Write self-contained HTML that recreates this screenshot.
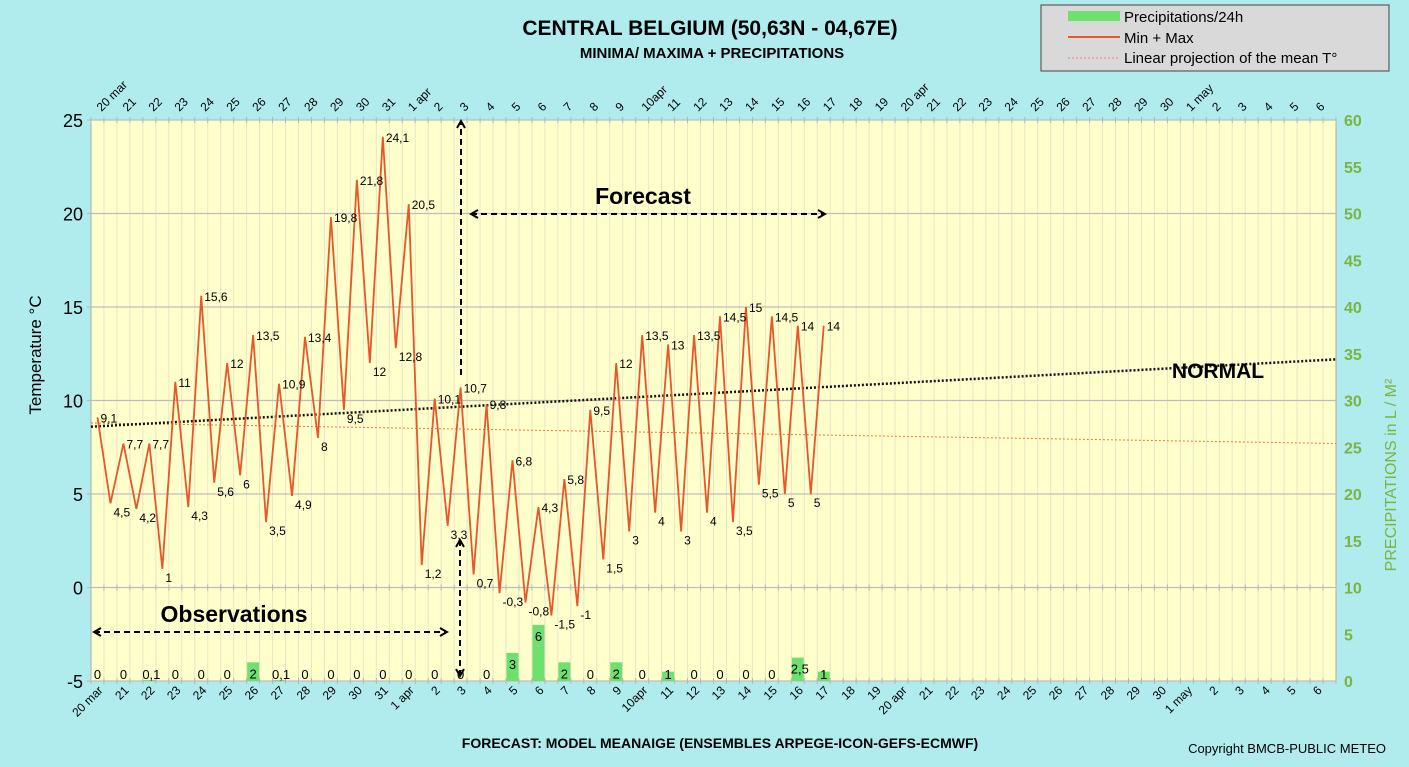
<!DOCTYPE html>
<html><head><meta charset="utf-8"><style>
body{margin:0;background:#b0ecee;}
svg{display:block;font-family:"Liberation Sans",sans-serif;}
</style></head><body>
<svg id="c" width="1409" height="767" xmlns="http://www.w3.org/2000/svg">
<rect x="0" y="0" width="1409" height="767" fill="#b0ecee"/>
<text x="710" y="35" text-anchor="middle" font-size="21" font-weight="bold">CENTRAL BELGIUM (50,63N - 04,67E)</text>
<text x="712" y="58" text-anchor="middle" font-size="15" font-weight="bold">MINIMA/ MAXIMA + PRECIPITATIONS</text>
<g>
<rect x="1041" y="5" width="348" height="66" fill="#d9d9d9" stroke="#444"/>
<rect x="1068" y="11" width="52" height="10" fill="#6ee06e"/>
<text x="1124" y="22" font-size="15">Precipitations/24h</text>
<line x1="1068" y1="37" x2="1120" y2="37" stroke="#e8562a" stroke-width="2"/>
<text x="1124" y="43" font-size="15">Min + Max</text>
<line x1="1068" y1="58" x2="1120" y2="58" stroke="#f08080" stroke-width="1" stroke-dasharray="2,2"/>
<text x="1124" y="63" font-size="15">Linear projection of the mean T°</text>
</g>
<g id="plot"></g>
<text x="720" y="748" text-anchor="middle" font-size="14" font-weight="bold">FORECAST: MODEL MEANAIGE (ENSEMBLES ARPEGE-ICON-GEFS-ECMWF)</text>
<text x="1386" y="753" text-anchor="end" font-size="13">Copyright BMCB-PUBLIC METEO</text>
<text transform="translate(41,355) rotate(-90)" text-anchor="middle" font-size="17">Temperature   °C</text>
<text transform="translate(1396,475) rotate(-90)" text-anchor="middle" font-size="16" fill="#7cb342">PRECIPITATIONS in L / M²</text>
</svg>
<script>
const dayLabels=["20 mar","21","22","23","24","25","26","27","28","29","30","31","1 apr","2","3","4","5","6","7","8","9","10apr","11","12","13","14","15","16","17","18","19","20 apr","21","22","23","24","25","26","27","28","29","30","1 may","2","3","4","5","6"];
const temps=[9.1,4.5,7.7,4.2,7.7,1,11,4.3,15.6,5.6,12,6,13.5,3.5,10.9,4.9,13.4,8,19.8,9.5,21.8,12,24.1,12.8,20.5,1.2,10.1,3.3,10.7,0.7,9.8,-0.3,6.8,-0.8,4.3,-1.5,5.8,-1,9.5,1.5,12,3,13.5,4,13,3,13.5,4,14.5,3.5,15,5.5,14.5,5,14,5,14];
const precip=[0,0,0.1,0,0,0,2,0.1,0,0,0,0,0,0,0,0,3,6,2,0,2,0,1,0,0,0,0,2.5,1];
const tempTicks=[-5,0,5,10,15,20,25];
const precipTicks=[0,5,10,15,20,25,30,35,40,45,50,55,60];
const normalLine=[8.6,12.2];
const linearLine=[8.8,7.7];
const NS="http://www.w3.org/2000/svg";
const L=91,R=1336,T=120,B=681,nd=48,dw=(R-L)/nd;
const yT=v=>B-(v+5)*(B-T)/30;
const yP=v=>B-v*(B-T)/60;
const xPt=k=>L+6.5+k*dw/2;
const xDay=i=>L+6.5+i*dw;
const g=document.getElementById('plot');
function mk(t,a,p){const e=document.createElementNS(NS,t);for(const k in a)e.setAttribute(k,a[k]);(p||g).appendChild(e);return e;}
let e=mk('rect',{x:L,y:T,width:R-L,height:B-T,fill:'#ffffcc',stroke:'#aaa'});


for(let i=1;i<nd*2;i++){const x=L+i*dw/2;e=mk('line',{x1:x,y1:T,x2:x,y2:B,stroke:'#e6e6c8','stroke-width':1});

}
tempTicks.forEach(v=>{const y=yT(v);e=mk('line',{x1:L-4,y1:y,x2:R,y2:y,stroke:'#bdbdbd','stroke-width':1.3});


e=mk('text',{x:L-8,y:y+7,'text-anchor':'end','font-size':18});e.textContent=v;

});
precipTicks.forEach(v=>{const y=yP(v);e=mk('text',{x:R+8,y:y+6,'font-size':16,'font-weight':'bold',fill:'#7cb342'});e.textContent=v;

});
for(let i=0;i<=nd*2;i++){const x=L+i*dw/2;[T,yT(0),B].forEach(y=>{e=mk('line',{x1:x,y1:y-3,x2:x,y2:y+3,stroke:'#b5b5b5'});

});}
dayLabels.forEach((s,i)=>{const x=xDay(i)+4;
e=mk('text',{transform:`translate(${x},${T-8}) rotate(-45)`,'font-size':12});e.textContent=s;


e=mk('text',{transform:`translate(${x+2},${B+10}) rotate(-45)`,'font-size':12,'text-anchor':'end'});e.textContent=s;

});
precip.forEach((v,i)=>{const x=xDay(i);if(v>0){e=mk('rect',{x:x-6,y:yP(v),width:12,height:B-yP(v),fill:'#6ee06e'});

}
e=mk('text',{x:x+(v%1?2:0),y:Math.min(yP(v)+16,B-2),'text-anchor':'middle','font-size':13});e.textContent=String(v).replace('.',',');

});
e=mk('line',{x1:L,y1:yT(linearLine[0]),x2:R,y2:yT(linearLine[1]),stroke:'#f07040','stroke-width':1,'stroke-dasharray':'2,2'});


e=mk('line',{x1:L,y1:yT(normalLine[0]),x2:R,y2:yT(normalLine[1]),stroke:'#111','stroke-width':2.5,'stroke-dasharray':'2,2'});


e=mk('text',{x:1218,y:yT(11.2),'text-anchor':'middle','font-size':21,'font-weight':'bold'});e.textContent='NORMAL';


e=mk('polyline',{points:temps.map((v,k)=>xPt(k)+','+yT(v)).join(' '),fill:'none',stroke:'#e8562a','stroke-width':1.8});


temps.forEach((v,k)=>{const mx=k%2==0;e=mk('text',{x:xPt(k)+3,y:yT(v)+(mx?5:13),'font-size':12});e.textContent=String(v).replace('.',',');

});
const defs=mk('defs',{});const m=mk('marker',{id:'ah',markerWidth:10,markerHeight:10,refX:8,refY:5,orient:'auto-start-reverse',markerUnits:'userSpaceOnUse'},defs);
mk('path',{d:'M1,1 L8,5 L1,9',fill:'none',stroke:'#000','stroke-width':2},m);
function arrow(x1,y1,x2,y2,name,both){e=mk('line',{x1,y1,x2,y2,stroke:'#000','stroke-width':2,'stroke-dasharray':'6,4','marker-end':'url(#ah)'});if(both)e.setAttribute('marker-start','url(#ah)');

}
arrow(461,375,461,121,'forecast-start-arrow-up',false);
arrow(460,540,460,676,'forecast-start-arrow-down',true);
arrow(471,214,825,214,'forecast-arrow',true);
arrow(94,632,447,632,'observations-arrow',true);
e=mk('text',{x:643,y:204,'text-anchor':'middle','font-size':23,'font-weight':'bold'});e.textContent='Forecast';


e=mk('text',{x:234,y:622,'text-anchor':'middle','font-size':23,'font-weight':'bold'});e.textContent='Observations';


</script>
</body></html>
